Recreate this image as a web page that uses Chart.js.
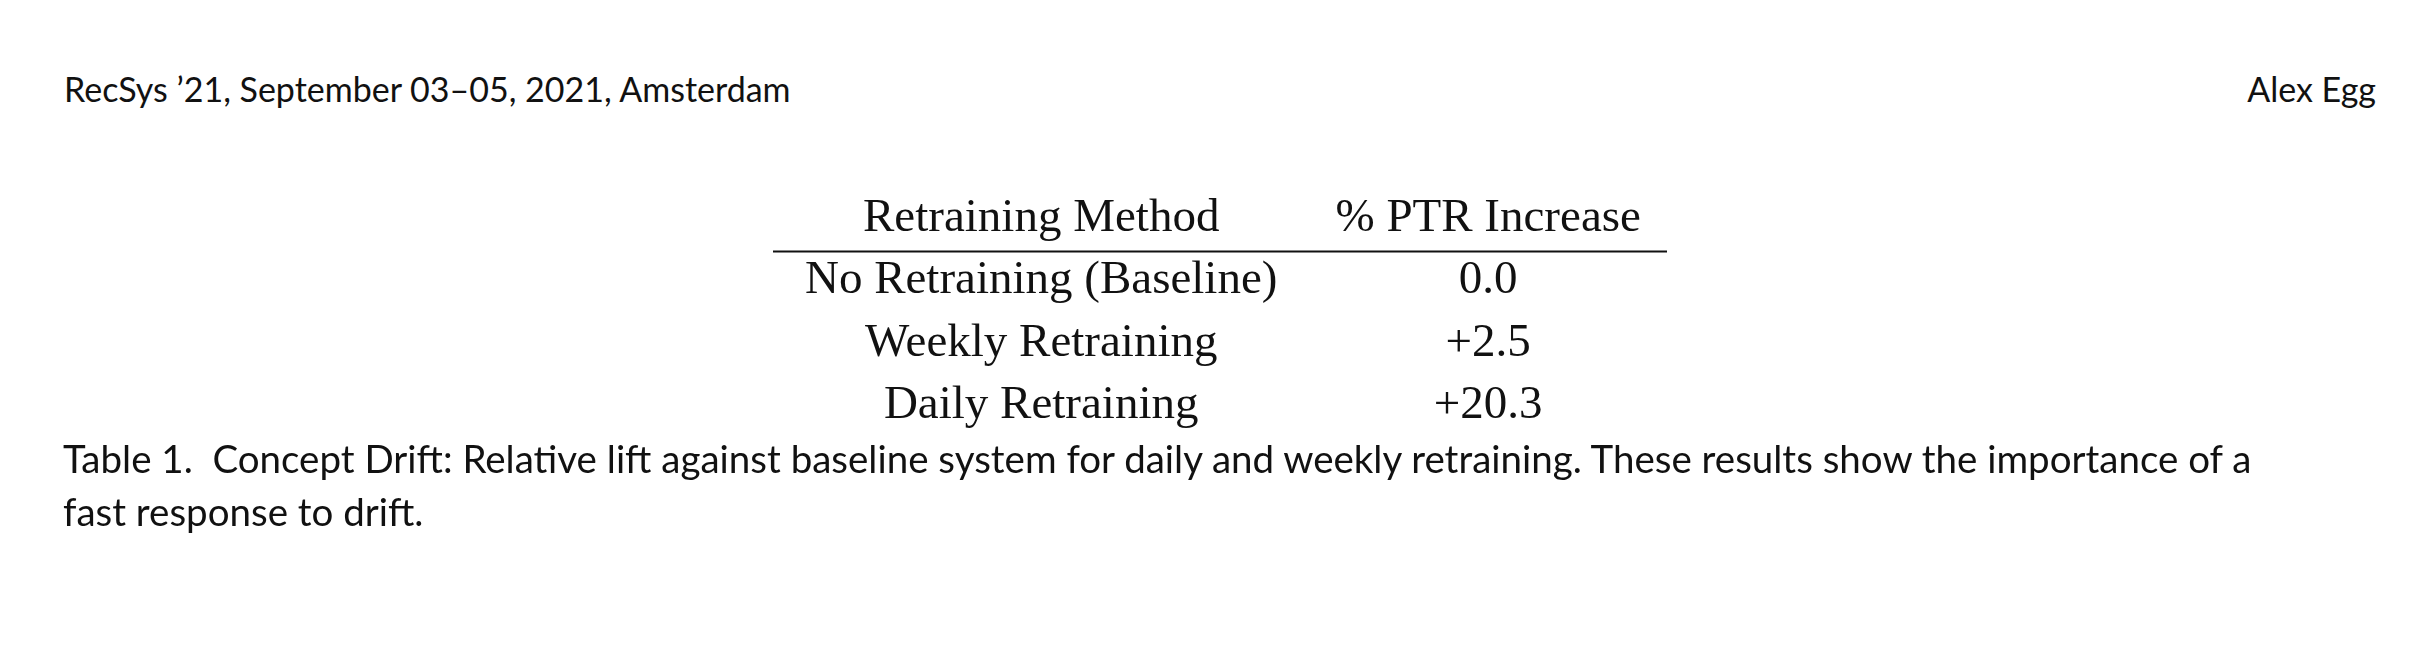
<!DOCTYPE html>
<html>
<head>
<meta charset="utf-8">
<script src="https://cdn.jsdelivr.net/npm/chart.js@4/dist/chart.umd.min.js"></script>
<style>
  body { margin: 0; width: 2422px; height: 648px; background: #fff; position: relative; overflow: hidden; }
  .hdr { position: absolute; top: 68px; font-family: Lato, "Open Sans", sans-serif; font-size: 34px; color: #111; }
  #chartBox { position: absolute; left: 773px; top: 184px; width: 894px; height: 256px; }
  .cap { position: absolute; left: 63px; top: 432px; width: 2330px; font-family: Lato, "Open Sans", sans-serif; font-size: 38.5px; line-height: 53px; color: #111; white-space: nowrap; }
</style>
</head>
<body>
<div class="hdr" style="left:64px">RecSys ’21, September 03–05, 2021, Amsterdam</div>
<div class="hdr" style="right:46px">Alex Egg</div>
<div id="chartBox"><canvas id="tableChart"></canvas></div>
<div class="cap">Table 1.&nbsp; Concept Drift: Relative lift against baseline system for daily and weekly retraining. These results show the importance of a<br>fast response to drift.</div>
<script>
// table content
const columnHeaders = ["Retraining Method", "% PTR Increase"];
const methods = ["No Retraining (Baseline)", "Weekly Retraining", "Daily Retraining"];
const ptrIncrease = ["0.0", "+2.5", "+20.3"];

// one invisible point per cell, text drawn by plugin at its position
const cells = [];
columnHeaders.forEach((h, c) => cells.push({ x: c, y: 0, text: h }));
methods.forEach((m, i) => {
    cells.push({ x: 0, y: i + 1, text: m });
    cells.push({ x: 1, y: i + 1, text: ptrIncrease[i] });
});

const cellText = {
    id: "cellText",
    afterDatasetsDraw(chart) {
        const ctx = chart.ctx;
        const meta = chart.getDatasetMeta(0);
        ctx.save();
        ctx.fillStyle = "#111";
        ctx.font = "47px 'Liberation Serif', serif";
        ctx.textAlign = "center";
        ctx.textBaseline = "middle";
        meta.data.forEach((pt, i) => ctx.fillText(cells[i].text, pt.x, pt.y));
        // rule under header
        const yRule = chart.scales.y.getPixelForValue(0.53);
        ctx.strokeStyle = "#111";
        ctx.lineWidth = 2;
        ctx.beginPath();
        ctx.moveTo(chart.chartArea.left, yRule);
        ctx.lineTo(chart.chartArea.right, yRule);
        ctx.stroke();
        ctx.restore();
    }
};

new Chart(document.getElementById("tableChart"), {
    type: "scatter",
    data: { datasets: [{ data: cells, pointRadius: 0, pointHoverRadius: 0 }] },
    options: {
        responsive: true,
        maintainAspectRatio: false,
        animation: false,
        layout: { padding: 0 },
        plugins: { legend: { display: false }, tooltip: { enabled: false } },
        scales: {
            x: { type: "linear", min: -0.6, max: 1.4, display: false },
            y: { type: "linear", min: -0.55, max: 3.55, reverse: true, display: false },
        },
    },
    plugins: [cellText],
});
</script>
</body>
</html>
